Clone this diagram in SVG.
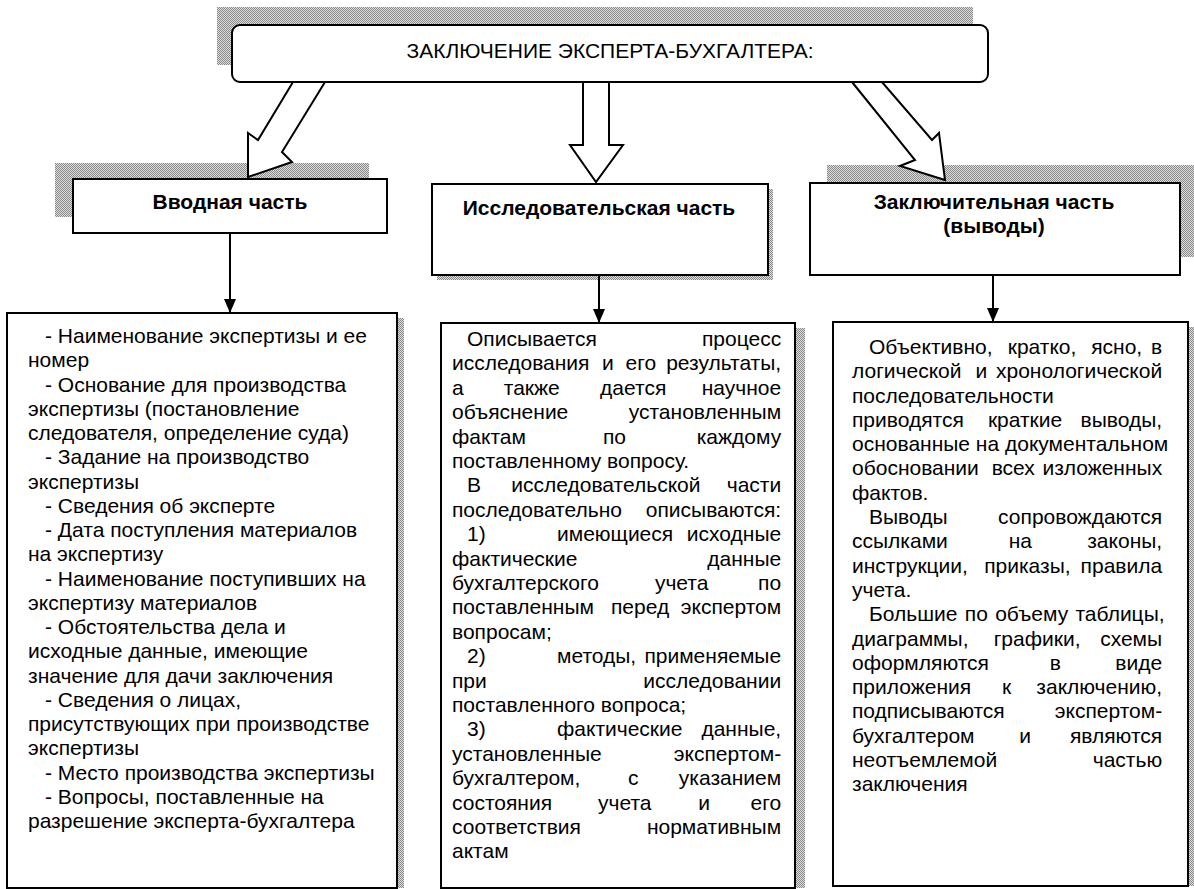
<svg xmlns="http://www.w3.org/2000/svg" width="1194" height="889" viewBox="0 0 1194 889">
<style>
.box{fill:#fff;stroke:#000;stroke-width:2}
.sh{fill:url(#dots);stroke:none}
.t{font-family:"Liberation Sans",Arial,sans-serif;font-size:21px;fill:#000}
.title{font-family:"Liberation Sans",Arial,sans-serif;font-size:21px;fill:#000;text-anchor:middle}
.h{font-family:"Liberation Sans",Arial,sans-serif;font-size:21px;font-weight:bold;fill:#000;text-anchor:middle}
.r{text-anchor:end}
.blk{fill:#fff;stroke:#000;stroke-width:2;stroke-linejoin:miter}
.ln{stroke:#000;stroke-width:2;fill:none}
</style>
<defs>
<pattern id="dots" width="2" height="2" patternUnits="userSpaceOnUse">
<rect width="2" height="2" fill="#dcdcdc"/>
<rect width="1" height="1" fill="#8a8a8a"/>
<rect x="1" y="1" width="1" height="1" fill="#8a8a8a"/>
</pattern>
<marker id="ah" viewBox="0 0 14 12" refX="14" refY="6" markerWidth="14" markerHeight="12" markerUnits="userSpaceOnUse" orient="auto">
<path d="M0,0 L14,6 L0,12 Z" fill="#000"/>
</marker>
</defs>
<rect width="1194" height="889" fill="#fff"/>

<g id="top">
<rect class="sh" x="217" y="7" width="756" height="58"/>
<rect class="box" x="232" y="25" width="756" height="57" rx="8"/>
<text class="title" x="610" y="58">ЗАКЛЮЧЕНИЕ ЭКСПЕРТА-БУХГАЛТЕРА:</text>
</g>

<g id="intro-head">
<rect class="sh" x="55" y="163" width="314" height="54"/>
<rect class="box" x="73" y="179" width="314" height="54"/>
<text class="h" x="230" y="209">Вводная часть</text>
</g>

<g id="research-head">
<rect class="sh" x="437" y="189" width="336" height="91"/>
<rect class="box" x="432" y="184" width="336" height="91"/>
<text class="h" x="599" y="215">Исследовательская часть</text>
</g>

<g id="final-head">
<rect class="sh" x="827" y="165" width="367" height="92"/>
<rect class="box" x="810" y="183" width="370" height="92"/>
<text class="h" x="994" y="209">Заключительная часть</text>
<text class="h" x="994" y="233">(выводы)</text>
</g>

<g id="connectors">
<polygon class="blk" points="293,82 258,140 248,133 248,177 292,162 282,152 325,82"/>
<polygon class="blk" points="583,82 583,145 570,145 596,182 623,145 609,145 609,82"/>
<polygon class="blk" points="852,82 915,160 900,166 945,180 939,133 932,140 882,82"/>
<line class="ln" x1="230" y1="233" x2="230" y2="313" marker-end="url(#ah)"/>
<line class="ln" x1="599" y1="275" x2="599" y2="323" marker-end="url(#ah)"/>
<line class="ln" x1="993" y1="275" x2="993" y2="322" marker-end="url(#ah)"/>
</g>

<g id="intro-body">
<rect class="sh" x="13" y="318" width="391" height="570"/>
<rect class="box" x="7" y="313" width="390" height="575"/>
<text class="t">
<tspan x="45" y="343">- Наименование экспертизы и ее</tspan>
<tspan x="28" y="367.25">номер</tspan>
<tspan x="45" y="391.5">- Основание для производства</tspan>
<tspan x="28" y="415.75">экспертизы (постановление</tspan>
<tspan x="28" y="440">следователя, определение суда)</tspan>
<tspan x="45" y="464.25">- Задание на производство</tspan>
<tspan x="28" y="488.5">экспертизы</tspan>
<tspan x="45" y="512.75">- Сведения об эксперте</tspan>
<tspan x="45" y="537">- Дата поступления материалов</tspan>
<tspan x="28" y="561.25">на экспертизу</tspan>
<tspan x="45" y="585.5">- Наименование поступивших на</tspan>
<tspan x="28" y="609.75">экспертизу материалов</tspan>
<tspan x="45" y="634">- Обстоятельства дела и</tspan>
<tspan x="28" y="658.25">исходные данные, имеющие</tspan>
<tspan x="28" y="682.5">значение для дачи заключения</tspan>
<tspan x="45" y="706.75">- Сведения о лицах,</tspan>
<tspan x="28" y="731">присутствующих при производстве</tspan>
<tspan x="28" y="755.25">экспертизы</tspan>
<tspan x="45" y="779.5">- Место производства экспертизы</tspan>
<tspan x="45" y="803.75">- Вопросы, поставленные на</tspan>
<tspan x="28" y="828">разрешение эксперта-бухгалтера</tspan>
</text>
</g>

<g id="research-body">
<rect class="sh" x="447" y="328" width="358" height="560"/>
<rect class="box" x="441" y="323" width="354" height="565"/>
<text class="t">
<tspan x="467" y="346">Описывается</tspan><tspan class="r" x="787" y="346">процесс</tspan>
<tspan x="452" y="370">исследования</tspan><tspan x="602" y="370">и</tspan><tspan x="625.6" y="370">его</tspan><tspan class="r" x="787" y="370">результаты,</tspan>
<tspan x="452" y="395">а</tspan><tspan x="503.8" y="395">также</tspan><tspan x="600.1" y="395">дается</tspan><tspan class="r" x="787" y="395">научное</tspan>
<tspan x="452" y="419">объяснение</tspan><tspan class="r" x="787" y="419">установленным</tspan>
<tspan x="452" y="444">фактам</tspan><tspan x="603" y="444">по</tspan><tspan class="r" x="787" y="444">каждому</tspan>
<tspan x="452" y="468">поставленному вопросу.</tspan>
<tspan x="467" y="492">В</tspan><tspan x="511.3" y="492">исследовательской</tspan><tspan class="r" x="787" y="492">части</tspan>
<tspan x="452" y="517">последовательно</tspan><tspan class="r" x="787" y="517">описываются:</tspan>
<tspan x="467" y="541">1)</tspan><tspan x="557" y="541">имеющиеся</tspan><tspan class="r" x="787" y="541">исходные</tspan>
<tspan x="452" y="566">фактические</tspan><tspan class="r" x="787" y="566">данные</tspan>
<tspan x="452" y="590">бухгалтерского</tspan><tspan x="654.9" y="590">учета</tspan><tspan class="r" x="787" y="590">по</tspan>
<tspan x="452" y="614">поставленным</tspan><tspan x="611" y="614">перед</tspan><tspan class="r" x="787" y="614">экспертом</tspan>
<tspan x="452" y="639">вопросам;</tspan>
<tspan x="467" y="663">2)</tspan><tspan x="557" y="663">методы,</tspan><tspan class="r" x="787" y="663">применяемые</tspan>
<tspan x="452" y="688">при</tspan><tspan class="r" x="787" y="688">исследовании</tspan>
<tspan x="452" y="712">поставленного вопроса;</tspan>
<tspan x="467" y="736">3)</tspan><tspan x="557" y="736">фактические</tspan><tspan class="r" x="787" y="736">данные,</tspan>
<tspan x="452" y="761">установленные</tspan><tspan class="r" x="787" y="761">экспертом-</tspan>
<tspan x="452" y="785">бухгалтером,</tspan><tspan x="628" y="785">с</tspan><tspan class="r" x="787" y="785">указанием</tspan>
<tspan x="452" y="810">состояния</tspan><tspan x="598" y="810">учета</tspan><tspan x="698.3" y="810">и</tspan><tspan class="r" x="787" y="810">его</tspan>
<tspan x="452" y="834">соответствия</tspan><tspan class="r" x="787" y="834">нормативным</tspan>
<tspan x="452" y="858">актам</tspan>
</text>
</g>

<g id="final-body">
<rect class="sh" x="839" y="327" width="355" height="559"/>
<rect class="box" x="833" y="322" width="355" height="564"/>
<text class="t">
<tspan x="869" y="354">Объективно,</tspan><tspan x="1007.7" y="354">кратко,</tspan><tspan x="1091.2" y="354">ясно,</tspan><tspan class="r" x="1168" y="354">в</tspan>
<tspan x="852" y="378">логической</tspan><tspan x="975.6" y="378">и</tspan><tspan class="r" x="1168" y="378">хронологической</tspan>
<tspan x="852" y="403">последовательности</tspan>
<tspan x="852" y="427">приводятся</tspan><tspan x="987.9" y="427">краткие</tspan><tspan class="r" x="1168" y="427">выводы,</tspan>
<tspan x="852" y="451">основанные на документальном</tspan>
<tspan x="852" y="475">обосновании</tspan><tspan x="991.7" y="475">всех</tspan><tspan class="r" x="1168" y="475">изложенных</tspan>
<tspan x="852" y="500">фактов.</tspan>
<tspan x="869" y="524">Выводы</tspan><tspan class="r" x="1168" y="524">сопровождаются</tspan>
<tspan x="852" y="548">ссылками</tspan><tspan x="1008.7" y="548">на</tspan><tspan class="r" x="1168" y="548">законы,</tspan>
<tspan x="852" y="573">инструкции,</tspan><tspan x="984.2" y="573">приказы,</tspan><tspan class="r" x="1168" y="573">правила</tspan>
<tspan x="852" y="597">учета.</tspan>
<tspan x="869" y="621" word-spacing="1.5">Большие по объему таблицы,</tspan>
<tspan x="852" y="646">диаграммы,</tspan><tspan x="993.7" y="646">графики,</tspan><tspan class="r" x="1168" y="646">схемы</tspan>
<tspan x="852" y="670">оформляются</tspan><tspan x="1049.8" y="670">в</tspan><tspan class="r" x="1168" y="670">виде</tspan>
<tspan x="852" y="694">приложения</tspan><tspan x="1002" y="694">к</tspan><tspan class="r" x="1168" y="694">заключению,</tspan>
<tspan x="852" y="718">подписываются</tspan><tspan class="r" x="1168" y="718">экспертом-</tspan>
<tspan x="852" y="743">бухгалтером</tspan><tspan x="1019.3" y="743">и</tspan><tspan class="r" x="1168" y="743">являются</tspan>
<tspan x="852" y="767">неотъемлемой</tspan><tspan class="r" x="1168" y="767">частью</tspan>
<tspan x="852" y="791">заключения</tspan>
</text>
</g>
</svg>
